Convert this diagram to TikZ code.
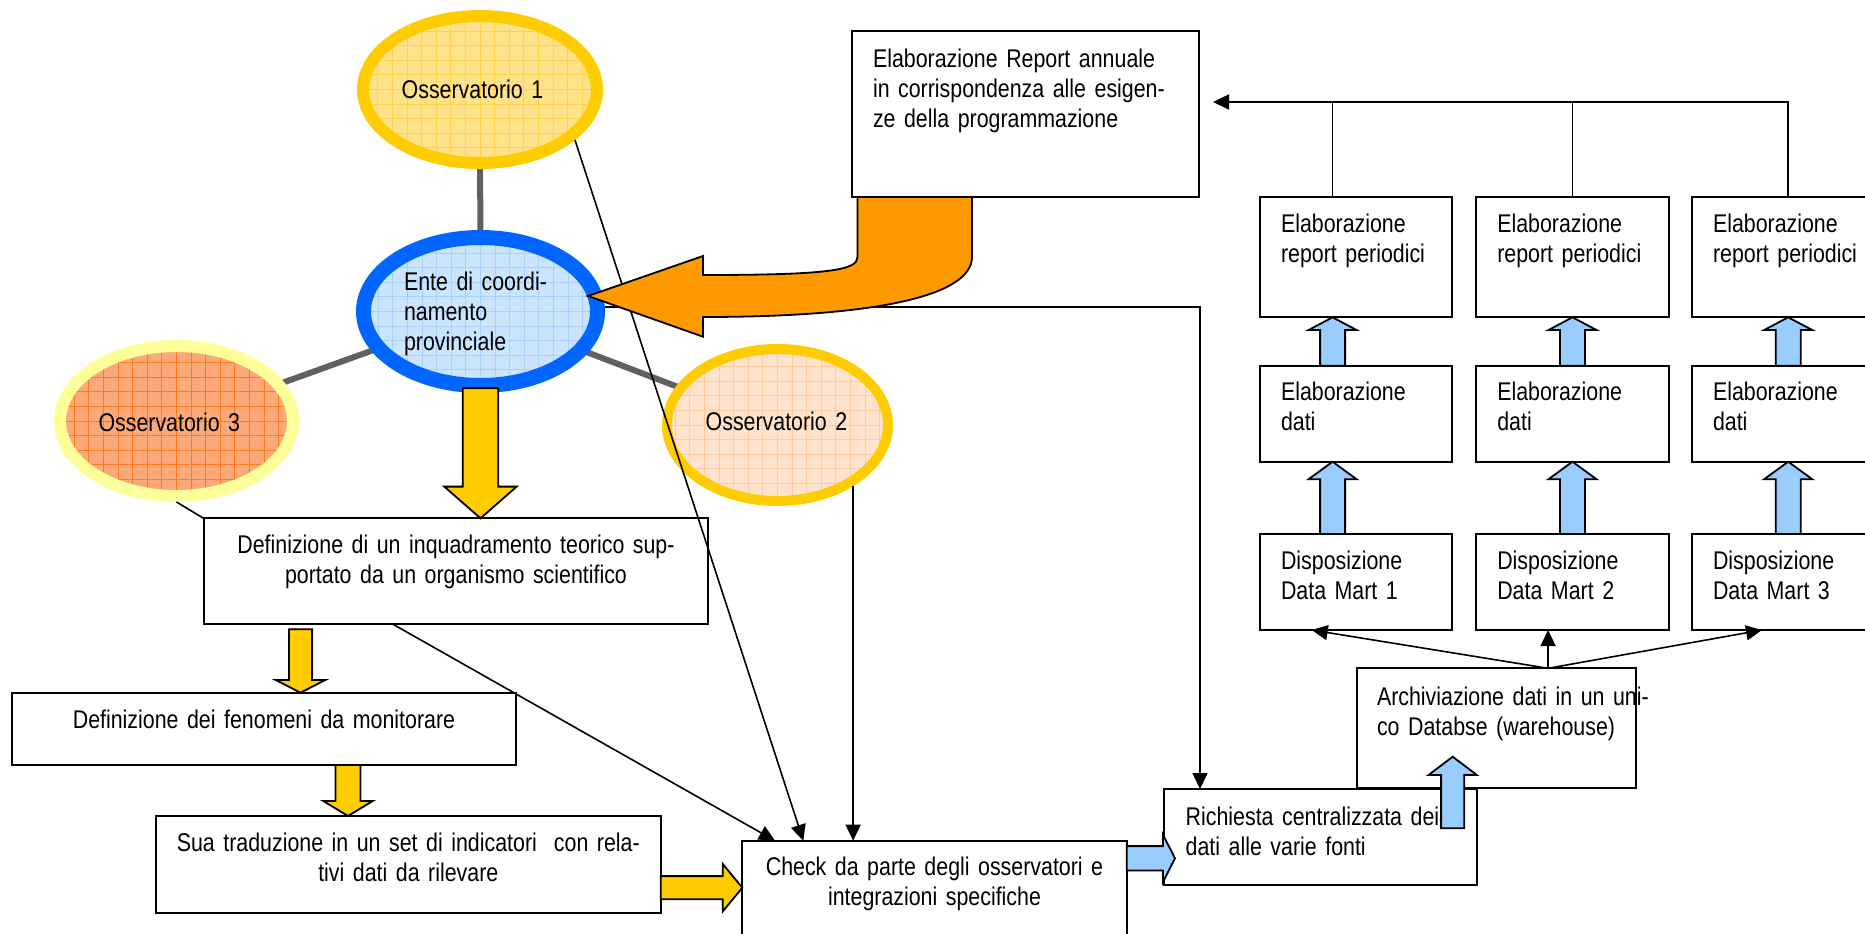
\documentclass[tikz,border=0pt]{standalone}
\usepackage{fontspec}
\setmainfont{Liberation Sans}[FakeStretch=0.835]
\usetikzlibrary{shapes.geometric,arrows.meta,calc}
\pgfdeclarelayer{background}
\pgfsetlayers{background,main}

\definecolor{ringyellow}{HTML}{FFCC00}
\definecolor{paleyellow}{HTML}{FFFF99}
\definecolor{ringblue}{HTML}{0066FF}
\definecolor{fillobsone}{HTML}{FFE28A}
\definecolor{gridobsone}{HTML}{FFD24A}
\definecolor{fillente}{HTML}{CCE5FF}
\definecolor{gridente}{HTML}{A8D1FF}
\definecolor{fillobsthree}{HTML}{FCA97A}
\definecolor{gridobsthree}{HTML}{FF7A1F}
\definecolor{fillobstwo}{HTML}{FFE3CC}
\definecolor{gridobstwo}{HTML}{FFCB9E}
\definecolor{spokegrey}{HTML}{606060}
\definecolor{arrowyellow}{HTML}{FFCC00}
\definecolor{arroworange}{HTML}{FF9900}
\definecolor{arrowblue}{HTML}{99CCFF}

% vertical block arrow: style, tip, tail, half shaft, half head, head length (>0 up, <0 down)
\newcommand\vblock[6]{%
  \draw[#1] let \p1=(#2), \p2=(#3) in
    (\x1,\y1) -- ({\x1+#5},{\y1-(#6)}) -- ({\x1+#4},{\y1-(#6)}) -- ({\x1+#4},\y2)
    -- ({\x1-#4},\y2) -- ({\x1-#4},{\y1-(#6)}) -- ({\x1-#5},{\y1-(#6)}) -- cycle;}
% horizontal block arrow: style, tip, tail, half shaft, half head, head length (>0 right)
\newcommand\hblock[6]{%
  \draw[#1] let \p1=(#2), \p2=(#3) in
    (\x1,\y1) -- ({\x1-(#6)},{\y1+#5}) -- ({\x1-(#6)},{\y1+#4}) -- (\x2,{\y1+#4})
    -- (\x2,{\y1-#4}) -- ({\x1-(#6)},{\y1-#4}) -- ({\x1-(#6)},{\y1-#5}) -- cycle;}

\begin{document}
\begin{tikzpicture}[x=0.5pt,y=-0.5pt,
  txt/.style={font=\fontsize{12.8pt}{15pt}\selectfont, inner sep=0pt, outer sep=0pt},
  ltxt/.style={txt, text width=180pt, align=left, anchor=base west},
  ctxt/.style={txt, text width=280pt, align=center, anchor=base},
  box/.style n args={2}{draw, line width=1pt, fill=white, rectangle, inner sep=0pt,
    outer sep=0pt, anchor=north west, minimum width=#1, minimum height=#2},
  oval/.style n args={4}{ellipse, inner sep=0pt, draw=#1, fill=#2, line width=#4,
    path picture={\draw[#3, line width=0.5pt] (path picture bounding box.south west)
      grid[step=7.3pt] (path picture bounding box.north east);}},
  spoke/.style={draw=spokegrey, line width=3pt},
  conn/.style={draw=black, line width=0.8pt},
  tip/.style={-{Triangle[length=8pt,width=7.5pt]}},
  yblk/.style={draw=black, line width=0.9pt, fill=arrowyellow, line join=miter},
  bblk/.style={draw=black, line width=0.9pt, fill=arrowblue, line join=miter},
  oblk/.style={draw=black, line width=0.9pt, fill=arroworange, line join=miter},
]
\useasboundingbox (0,0) rectangle (1865,933);
\begin{pgfonlayer}{background}
  \fill[white] (0,0) rectangle (1865,933);
\end{pgfonlayer}
\clip (0,0) rectangle (1865,933);

% observatories and coordinating body
\node[oval={ringyellow}{fillobsone}{gridobsone}{6pt}, minimum width=117pt, minimum height=73.5pt] (o1) at (480,89.5) {};
\node[oval={ringblue}{fillente}{gridente}{7.5pt}, minimum width=117pt, minimum height=74pt] (ente) at (480.5,311.5) {};
\node[oval={paleyellow}{fillobsthree}{gridobsthree}{6pt}, minimum width=116.5pt, minimum height=75pt] (o3) at (176.5,421) {};
\node[oval={ringyellow}{fillobstwo}{gridobstwo}{5pt}, minimum width=110.5pt, minimum height=76pt] (o2) at (777.5,425) {};

\node[ctxt] (o1-t) at (472.5,98) {Osservatorio 1};
\node[ltxt] (ente-t) at (404,290.7) {Ente di coordi-\\namento\\provinciale};
\node[ctxt] (o3-t) at (169.3,431) {Osservatorio 3};
\node[ctxt] (o2-t) at (776.5,430) {Osservatorio 2};

\begin{pgfonlayer}{background}
  \draw[spoke] (o1.center) -- (ente.center);
  \draw[spoke] (ente.center) -- (o3.center);
  \draw[spoke] (ente.center) -- (o2.center);
\end{pgfonlayer}

% left-hand process boxes
\node[box={252.3pt}{52.85pt}] (def) at (203.6,518.3) {};
\node[ctxt] (def-t) at (456,553.3) {Definizione di un inquadramento teorico sup-\\portato da un organismo scientifico};
\node[box={252pt}{36.15pt}] (fen) at (12.1,692.7) {};
\node[ctxt] (fen-t) at (264,728.3) {Definizione dei fenomeni da monitorare};
\node[box={252.35pt}{48.35pt}] (sua) at (156,816) {};
\node[ctxt] (sua-t) at (408.3,851) {Sua traduzione in un set di indicatori\ \ con rela-\\tivi dati da rilevare};
\node[box={192.2pt}{60pt}] (chk) at (742.3,840.7) {};
\node[ctxt] (chk-t) at (934.5,875) {Check da parte degli osservatori e\\integrazioni specifiche};

% warehouse boxes
\node[box={139.4pt}{60pt}] (arch) at (1356.7,668.3) {};
\node[ltxt] (arch-t) at (1377,705) {Archiviazione dati in un uni-\\co Databse (warehouse)};
\node[box={156.35pt}{48pt}] (rich) at (1164,789) {};
\node[ltxt] (rich-t) at (1185.7,825) {Richiesta centralizzata dei\\dati alle varie fonti};

% three data-mart columns
\foreach \i/\x in {1/1260,2/1476.3,3/1692}{
  \node[box={96.2pt}{60pt}] (rp\i) at (\x,197.3) {};
  \node[ltxt] (rp\i-t) at (\x+21,232) {Elaborazione\\report periodici};
  \node[box={96.2pt}{48pt}] (dat\i) at (\x,365.7) {};
  \node[ltxt] (dat\i-t) at (\x+21,400) {Elaborazione\\dati};
  \node[box={96.2pt}{48pt}] (dm\i) at (\x,534) {};
  \node[ltxt] (dm\i-t) at (\x+21,569) {Disposizione\\Data Mart \i};
}

% thin connectors
\draw[conn] (o3.south) -- (def.north west);
\draw[conn, tip] (o1.-28.8) -- ([xshift=30.5pt]chk.north west);
\draw[conn, tip] ([xshift=-31.65pt]def.south) -- ([xshift=16.35pt]chk.north west);
\coordinate (o2foot) at (o2.-39.3);
\draw[conn, tip] (o2foot) -- (o2foot |- chk.north);
\coordinate (enteout) at ([yshift=2.4pt]ente.east);
\coordinate (richin) at ([xshift=18pt]rich.north west);
\draw[conn, tip] (enteout) -| (richin);

\coordinate (fan) at ([xshift=26pt]arch.north);
\draw[conn, tip] (fan) -- ([xshift=25.85pt]dm1.south west);
\draw[conn, tip] (fan) -- (fan |- dm2.south);
\draw[conn, tip] (fan) -- ([xshift=35pt]dm3.south west);

% feedback arrow towards the coordinating body
\draw[oblk] (857.5,190) -- (857.5,257) .. controls (857.5,270) and (830,275) .. (703,275)
  -- (703,256) -- (588,296) -- (703,336.7) -- (703,317)
  .. controls (880,317) and (972,295) .. (972,257) -- (972,190) -- cycle;

% annual report box and its collector line
\node[box={173.5pt}{83pt}] (rep) at (852,31) {};
\node[ltxt] (rep-t) at (873,67) {Elaborazione Report annuale\\in corrispondenza alle esigen-\\ze della programmazione};
\coordinate (busend) at ([xshift=7pt,yshift=6pt]rep.east);
\coordinate (col1top) at ([xshift=-11.8pt]rp1.north);
\draw[conn, tip] (rp3.north) |- (busend);
\draw[conn] (col1top) -- (col1top |- busend);
\draw[conn] (rp2.north) -- (rp2.north |- busend);

% block arrows
\vblock{yblk}{ente.south |- def.north}{[yshift=2.4pt]ente.south}{8.9pt}{18.1pt}{-15.85pt}
\vblock{yblk}{[xshift=144.2pt]fen.north west}{[yshift=-2.65pt]def.south}{5.8pt}{12.4pt}{-6.35pt}
\vblock{yblk}{[xshift=96pt]sua.north west}{fen.south}{6.25pt}{12.35pt}{-7.5pt}
\hblock{yblk}{[yshift=-23.5pt]chk.north west}{sua.east}{5.8pt}{11.9pt}{9.8pt}
\hblock{bblk}{[xshift=5.5pt,yshift=-34.65pt]rich.north west}{chk.east}{6.1pt}{11.8pt}{6pt}
\vblock{bblk}{[xshift=48pt,yshift=15.8pt]arch.south west}{[yshift=-19.65pt]rich.north}{5.8pt}{12.1pt}{9.15pt}

\vblock{bblk}{[xshift=-11.8pt]rp1.south}{[xshift=-11.8pt]dat1.north}{6.25pt}{12pt}{6.35pt}
\vblock{bblk}{[xshift=-11.8pt]dat1.south}{[xshift=-11.8pt]dm1.north}{6.25pt}{12pt}{8.75pt}
\foreach \i in {2,3}{
  \vblock{bblk}{rp\i.south}{dat\i.north}{6.25pt}{12pt}{6.35pt}
  \vblock{bblk}{dat\i.south}{dm\i.north}{6.25pt}{12pt}{8.75pt}
}
\end{tikzpicture}
\end{document}
